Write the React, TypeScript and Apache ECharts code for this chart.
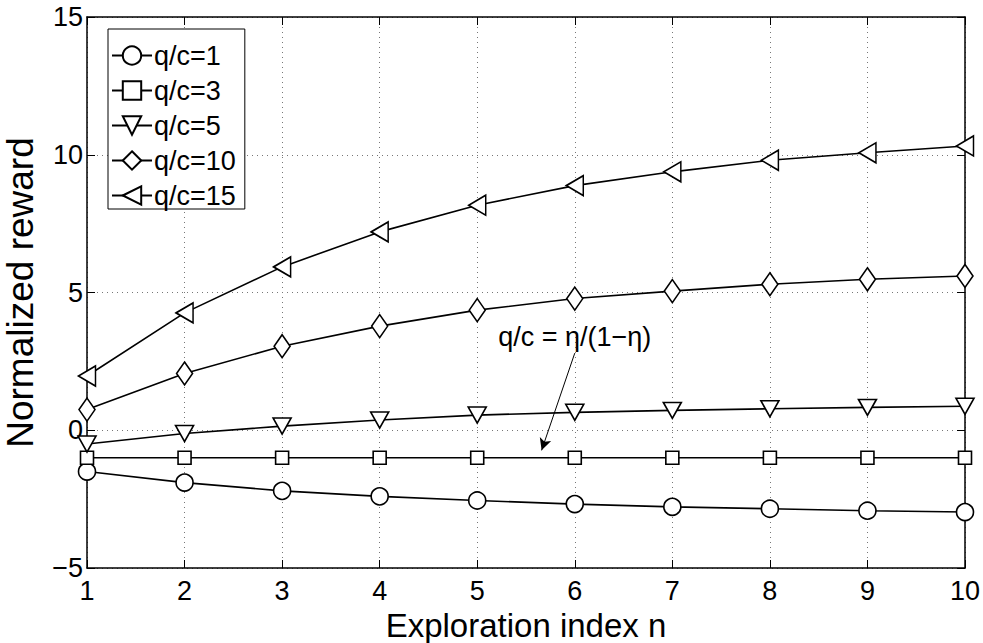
import React, { useEffect, useRef } from "react";
import * as echarts from "echarts";

const nValues = [1, 2, 3, 4, 5, 6, 7, 8, 9, 10];
const seriesNames = ["q/c=1", "q/c=3", "q/c=5", "q/c=10", "q/c=15"];
const qc1 = [-1.5, -1.9, -2.2, -2.4, -2.55, -2.68, -2.78, -2.85, -2.92, -2.97];
const qc3 = [-1, -1, -1, -1, -1, -1, -1, -1, -1, -1];
const qc5 = [-0.5, -0.12, 0.15, 0.37, 0.55, 0.65, 0.72, 0.78, 0.83, 0.87];
const qc10 = [0.75, 2.06, 3.05, 3.78, 4.36, 4.78, 5.05, 5.3, 5.48, 5.6];
const qc15 = [1.97, 4.26, 5.93, 7.2, 8.17, 8.88, 9.38, 9.8, 10.07, 10.32];
const yTicks = [-5, 0, 5, 10, 15];
const annotationText = "q/c = η/(1−η)";
const annotationTextAt = [6.0, 3.4];
const arrowFrom = [6.0, 2.8];
const arrowTo = [5.66, -0.73];

const FONT = "'Liberation Sans', Arial, Helvetica, sans-serif";

const symbols: any[] = [
  { symbol: "circle", size: 17 },
  { symbol: "rect", size: 13 },
  { symbol: "path://M0,0 L10,0 L5,9 Z", size: [18, 16] },
  { symbol: "diamond", size: [16, 23] },
  { symbol: "path://M0,5 L9,0 L9,10 Z", size: [17, 20] },
];

export default function App() {
  const ref = useRef<HTMLDivElement>(null);
  useEffect(() => {
    if (!ref.current) return;
    const chart = echarts.init(ref.current, undefined, { renderer: "svg" });
    const allData = [qc1, qc3, qc5, qc10, qc15];
    const series: any[] = allData.map((vals, i) => ({
      name: seriesNames[i],
      type: "line",
      data: vals.map((v, k) => [nValues[k], v]),
      symbol: symbols[i].symbol,
      symbolSize: symbols[i].size,
      showAllSymbol: true,
      lineStyle: { color: "#000", width: 1.6 },
      itemStyle: { color: "#fff", borderColor: "#000", borderWidth: 1.6 },
      emphasis: { disabled: true },
      z: 3,
    }));
    series.push({
      type: "line",
      data: [],
      silent: true,
      markLine: {
        silent: true,
        animation: false,
        symbol: ["none", "arrow"],
        symbolSize: [9, 12],
        lineStyle: { color: "#000", width: 1, type: "solid" },
        label: { show: false },
        data: [[{ coord: arrowFrom }, { coord: arrowTo }]],
      },
      markPoint: {
        silent: true,
        animation: false,
        symbol: "circle",
        symbolSize: 1,
        itemStyle: { color: "rgba(0,0,0,0)" },
        label: {
          show: true,
          position: "inside",
          formatter: annotationText,
          fontSize: 27,
          fontFamily: FONT,
          color: "#000",
        },
        data: [{ coord: annotationTextAt }],
      },
    });
    const minus = (v: number) => String(v).replace("-", "−");
    chart.setOption({
      animation: false,
      backgroundColor: "#fff",
      textStyle: { fontFamily: FONT },
      grid: { left: 87, right: 18, top: 17, bottom: 75, containLabel: false, outerBoundsMode: "none" },
      legend: {
        data: seriesNames,
        orient: "vertical",
        left: 108,
        top: 29,
        itemWidth: 40,
        itemHeight: 23,
        itemGap: 8,
        padding: [13, 9, 0, 3],
        borderColor: "#000",
        borderWidth: 1,
        backgroundColor: "#fff",
        selectedMode: false,
        textStyle: { fontSize: 27, color: "#000", fontFamily: FONT, padding: [0, 0, 0, -3] },
        z: 10,
      },
      xAxis: [
        {
          type: "value",
          min: 1,
          max: 10,
          interval: 1,
          name: "Exploration index n",
          nameLocation: "middle",
          nameGap: 32,
          nameTextStyle: { fontSize: 33, color: "#000", fontFamily: FONT },
          axisLine: { onZero: false, lineStyle: { color: "#000", width: 1.5 } },
          axisTick: { inside: true, length: 8, lineStyle: { color: "#000" } },
          axisLabel: { fontSize: 27, color: "#000", margin: 9, fontFamily: FONT },
          splitLine: { show: true, lineStyle: { color: "#777", type: [1, 4], width: 1 } },
        },
        {
          type: "value",
          min: 1,
          max: 10,
          interval: 1,
          position: "top",
          axisLine: { onZero: false, lineStyle: { color: "#000", width: 1.5 } },
          axisTick: { inside: true, length: 8, lineStyle: { color: "#000" } },
          axisLabel: { show: false },
          splitLine: { show: false },
        },
      ],
      yAxis: [
        {
          type: "value",
          min: -5,
          max: 15,
          interval: 5,
          name: "Normalized reward",
          nameLocation: "middle",
          nameGap: 48,
          nameTextStyle: { fontSize: 37, color: "#000", fontFamily: FONT },
          axisLine: { show: true, onZero: false, lineStyle: { color: "#000", width: 1.5 } },
          axisTick: { show: true, inside: true, length: 8, lineStyle: { color: "#000" } },
          axisLabel: {
            fontSize: 27,
            color: "#000",
            margin: 4,
            fontFamily: FONT,
            formatter: (v: number) => (yTicks.includes(v) ? minus(v) : ""),
          },
          splitLine: { show: true, lineStyle: { color: "#777", type: [1, 4], width: 1 } },
        },
        {
          type: "value",
          min: -5,
          max: 15,
          interval: 5,
          position: "right",
          axisLine: { show: true, onZero: false, lineStyle: { color: "#000", width: 1.5 } },
          axisTick: { show: true, inside: true, length: 8, lineStyle: { color: "#000" } },
          axisLabel: { show: false },
          splitLine: { show: false },
        },
      ],
      series,
    });
    return () => chart.dispose();
  }, []);
  return <div ref={ref} style={{ width: 983, height: 643, position: "absolute", left: 0, top: 0 }} />;
}
